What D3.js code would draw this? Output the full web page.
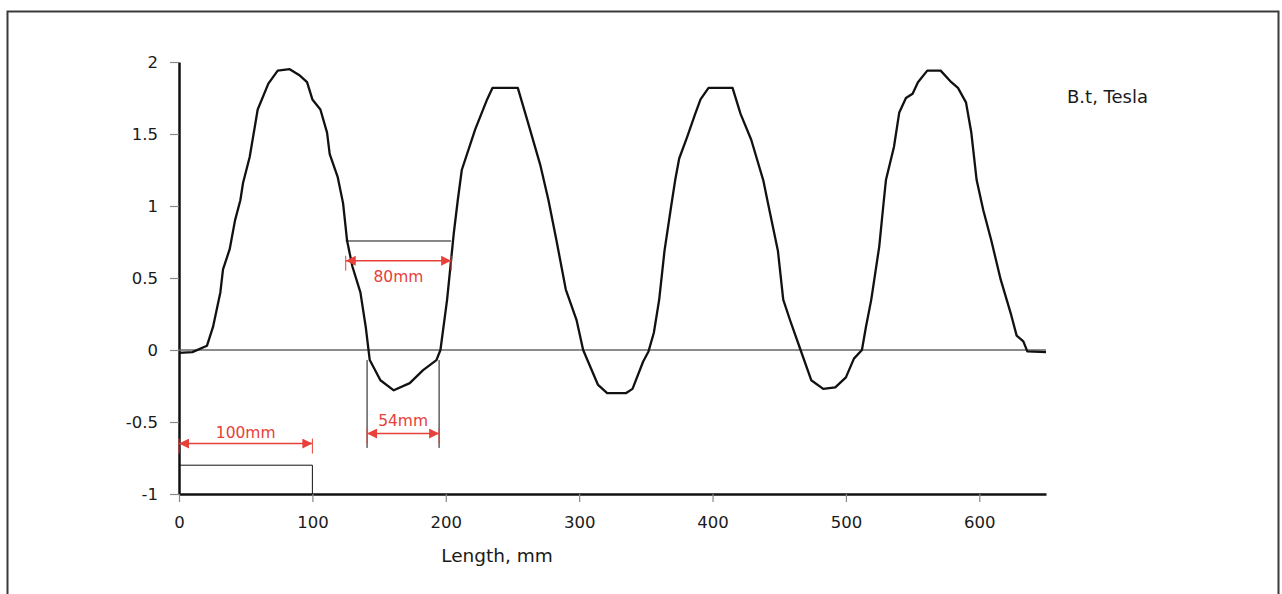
<!DOCTYPE html>
<html>
<head>
<meta charset="utf-8">
<script src="https://cdn.jsdelivr.net/npm/d3@7"></script>
<style>
  body { margin: 0; background: #fff; }
  svg { display: block; font-family: "DejaVu Sans", Verdana, sans-serif; }
</style>
</head>
<body>
<svg width="1282" height="594"></svg>
<script>
var svg = d3.select('svg');

// flux density along the length
const lengthMm = [0, 10, 21, 25.5, 31, 33, 38, 42, 46, 48, 53, 59, 67, 74, 83, 90, 96, 100, 106, 111, 113, 119, 123, 126, 130, 136, 140, 143, 151, 161, 173, 183, 193, 196, 201, 206, 209, 212, 222, 231, 235, 254, 261, 271, 277, 283, 290, 298, 303, 314, 321, 335, 340, 348, 352, 356, 360, 364, 369, 372, 375, 381, 387, 391, 397, 415, 421, 429, 438, 442, 449, 453, 458, 466, 474, 483, 492, 500, 506, 512, 515, 519, 525, 528, 530, 536, 540, 545, 550, 554, 561, 571, 579, 584, 590, 594, 598, 603, 609, 616, 624, 628, 633, 636, 650];
const fluxT = [-0.02, -0.015, 0.03, 0.16, 0.4, 0.56, 0.7, 0.9, 1.04, 1.16, 1.34, 1.67, 1.85, 1.94, 1.95, 1.91, 1.86, 1.74, 1.67, 1.51, 1.36, 1.2, 1.02, 0.76, 0.58, 0.4, 0.16, -0.07, -0.21, -0.28, -0.23, -0.14, -0.07, 0, 0.35, 0.81, 1.04, 1.25, 1.53, 1.74, 1.82, 1.82, 1.6, 1.28, 1.04, 0.76, 0.42, 0.21, 0, -0.24, -0.3, -0.3, -0.27, -0.08, -0.01, 0.12, 0.35, 0.69, 1.0, 1.18, 1.33, 1.48, 1.64, 1.74, 1.82, 1.82, 1.64, 1.46, 1.18, 1.0, 0.69, 0.35, 0.21, 0, -0.21, -0.27, -0.26, -0.19, -0.06, 0, 0.16, 0.35, 0.72, 1.0, 1.18, 1.41, 1.65, 1.75, 1.78, 1.86, 1.94, 1.94, 1.86, 1.82, 1.72, 1.51, 1.18, 0.97, 0.76, 0.49, 0.24, 0.1, 0.06, -0.01, -0.015];

const xTicks = [0, 100, 200, 300, 400, 500, 600];
const yTicks = [-1, -0.5, 0, 0.5, 1, 1.5, 2];

// dimension annotations (red arrows)
const dimLabels = ["100mm", "80mm", "54mm"];
const dimFrom = [0, 125, 141];
const dimTo = [100, 204, 195];
const dimArrowY = [-0.65, 0.62, -0.58];
const dimText = [-0.61, 0.47, -0.53];

const red = "#e8403a";

const x = d3.scaleLinear().domain([0, 650]).range([179, 1046]);
const y = d3.scaleLinear().domain([-1, 2]).range([494, 62]);

// cadre
svg.append('rect')
  .attr('x', 7.5).attr('y', 11.5)
  .attr('width', 1271).attr('height', 620)
  .attr('fill', 'none').attr('stroke', '#3a3a3a').attr('stroke-width', 2);

// axes
const gy = svg.append('g')
  .attr('transform', `translate(${x(0)},0)`)
  .call(d3.axisLeft(y).tickValues(yTicks).tickFormat(d => String(d)).tickSize(9).tickSizeOuter(0).tickPadding(12));
const gx = svg.append('g')
  .attr('transform', `translate(0,${y(-1)})`)
  .call(d3.axisBottom(x).tickValues(xTicks).tickFormat(d => String(d)).tickSize(8).tickSizeOuter(0).tickPadding(14));

[gx, gy].forEach(g => {
  g.select('.domain').attr('stroke', '#111').attr('stroke-width', 2.5);
  g.selectAll('.tick line').attr('stroke', '#888').attr('stroke-width', 1.2);
  g.selectAll('.tick text').attr('fill', '#1a1a1a').style('font-size', '16.5px').style('font-family', '"DejaVu Sans", Verdana, sans-serif');
});

// ligne du zéro
svg.append('line')
  .attr('x1', x(0)).attr('x2', x(650))
  .attr('y1', y(0)).attr('y2', y(0))
  .attr('stroke', '#666').attr('stroke-width', 1.3);

// titres
svg.append('text')
  .attr('x', 497).attr('y', 562)
  .attr('text-anchor', 'middle')
  .style('font-size', '18.5px').attr('fill', '#1a1a1a')
  .text('Length, mm');
svg.append('text')
  .attr('x', 1067).attr('y', 103)
  .style('font-size', '18px').attr('fill', '#1a1a1a')
  .text('B.t, Tesla');

// lignes de repère noires
const blk = svg.append('g').attr('stroke', '#111').attr('stroke-width', 1).attr('fill', 'none');
// 100mm box
blk.append('path').attr('d', `M${x(0)},${y(-0.8)}H${x(100)}V${y(-1)}`);
// 80mm reference
blk.append('line').attr('x1', x(125)).attr('x2', x(204)).attr('y1', y(0.757)).attr('y2', y(0.757));
// 54mm verticals
blk.append('line').attr('x1', x(141)).attr('x2', x(141)).attr('y1', y(-0.07)).attr('y2', y(-0.68));
blk.append('line').attr('x1', x(195)).attr('x2', x(195)).attr('y1', y(-0.07)).attr('y2', y(-0.68));

// courbe
const line = d3.line().x(d => x(d[0])).y(d => y(d[1]));
svg.append('path')
  .datum(d3.zip(lengthMm, fluxT))
  .attr('d', line)
  .attr('fill', 'none')
  .attr('stroke', '#111')
  .attr('stroke-width', 2.3)
  .attr('stroke-linejoin', 'round');

// flèches rouges
svg.append('defs').append('marker')
  .attr('id', 'arr')
  .attr('viewBox', '0 0 10 10')
  .attr('refX', 10).attr('refY', 5)
  .attr('markerWidth', 13).attr('markerHeight', 10)
  .attr('markerUnits', 'userSpaceOnUse')
  .attr('orient', 'auto-start-reverse')
  .append('path').attr('d', 'M0,0L10,5L0,10Z').attr('fill', red);

dimLabels.forEach((lab, i) => {
  const yy = y(dimArrowY[i]);
  svg.append('line')
    .attr('x1', x(dimFrom[i])).attr('x2', x(dimTo[i]))
    .attr('y1', yy).attr('y2', yy)
    .attr('stroke', red).attr('stroke-width', 1.5)
    .attr('marker-start', 'url(#arr)').attr('marker-end', 'url(#arr)');
  [dimFrom[i], dimTo[i]].forEach(v => {
    svg.append('line')
      .attr('x1', x(v)).attr('x2', x(v))
      .attr('y1', yy - 5).attr('y2', yy + 10)
      .attr('stroke', red).attr('stroke-width', 1);
  });
  svg.append('text')
    .attr('x', (x(dimFrom[i]) + x(dimTo[i])) / 2)
    .attr('y', y(dimText[i]))
    .attr('text-anchor', 'middle')
    .style('font-size', '15.5px')
    .attr('fill', red)
    .text(lab);
});
</script>
</body>
</html>
